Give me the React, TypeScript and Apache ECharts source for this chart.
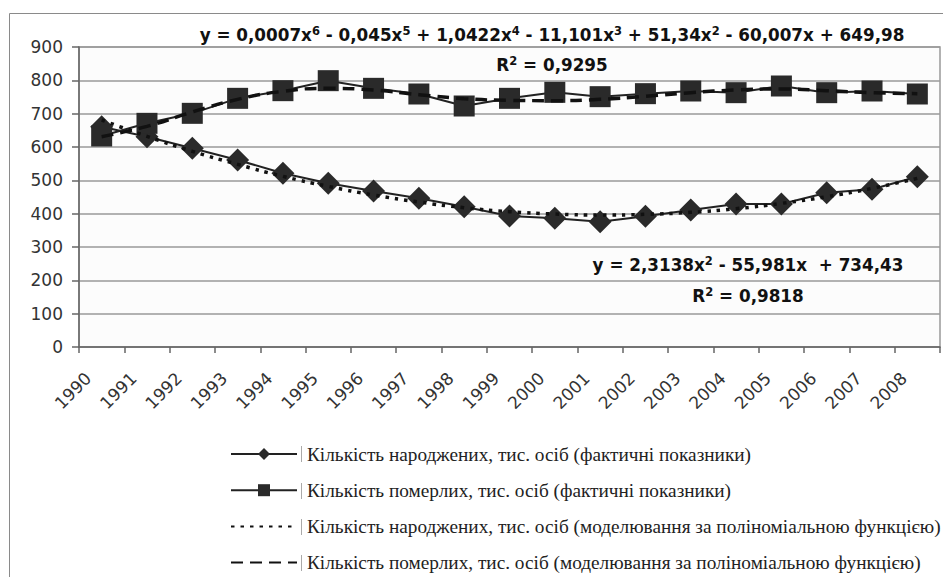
import React, { useEffect, useRef } from "react";
import * as echarts from "echarts";

const years = ["1990", "1991", "1992", "1993", "1994", "1995", "1996", "1997", "1998", "1999", "2000", "2001", "2002", "2003", "2004", "2005", "2006", "2007", "2008"];
const birthsActual = [661, 631, 596, 561, 521, 491, 468, 446, 421, 393, 386, 376, 392, 411, 429, 429, 463, 473, 511];
const deathsActual = [633, 671, 701, 746, 769, 799, 776, 759, 723, 746, 764, 751, 760, 768, 763, 783, 763, 768, 759];
const birthsModel = [681, 632, 587, 548, 512, 482, 456, 435, 418, 406, 399, 396, 398, 404, 415, 431, 451, 476, 506];
const deathsModel = [631, 662, 705, 743, 767, 776, 771, 757, 745, 740, 739, 743, 752, 763, 771, 774, 769, 763, 760];
const yMin = 0;
const yMax = 900;
const yStep = 100;

const seriesNames = [
  "Кількість народжених, тис. осіб (фактичні показники)",
  "Кількість померлих, тис. осіб (фактичні показники)",
  "Кількість народжених, тис. осіб (моделювання за поліноміальною функцією)",
  "Кількість померлих, тис. осіб (моделювання за поліноміальною функцією)",
];

const deathsEquation = "{b|y = 0,0007x}{s|6}{b| - 0,045x}{s|5}{b| + 1,0422x}{s|4}{b| - 11,101x}{s|3}{b| + 51,34x}{s|2}{b| - 60,007x + 649,98}";
const deathsR2 = "{b|R}{s|2}{b| = 0,9295}";
const birthsEquation = "{b|y = 2,3138x}{s|2}{b| - 55,981x  + 734,43}";
const birthsR2 = "{b|R}{s|2}{b| = 0,9818}";

const richStyles = {
  b: { fontFamily: "DejaVu Sans", fontWeight: "bold", fontSize: 16.8, fill: "#111", lineHeight: 20 },
  s: { fontFamily: "DejaVu Sans", fontWeight: "bold", fontSize: 11.5, fill: "#111", lineHeight: 12, verticalAlign: "top" },
};

function eqText(text: string, x: number, y: number) {
  return {
    type: "text",
    x,
    y,
    silent: true,
    z: 100,
    style: {
      text,
      rich: richStyles,
      align: "center",
      verticalAlign: "middle",
      textAlign: "center",
      textVerticalAlign: "middle",
      fill: "#111",
    },
  };
}

const legendRows = [454, 491, 527, 563];

export default function App() {
  const ref = useRef<HTMLDivElement>(null);
  useEffect(() => {
    if (!ref.current) return;
    const chart = echarts.init(ref.current, undefined, { renderer: "svg" });
    const darkLine = "#222";
    const hiddenSymbol = { opacity: 0, color: "rgba(0,0,0,0)", borderWidth: 0 };
    chart.setOption({
      animation: false,
      backgroundColor: "#ffffff",
      grid: {
        left: 79,
        right: 3,
        top: 47,
        bottom: 230,
        show: true,
        backgroundColor: "#fcfcfc",
        borderColor: "#999",
        borderWidth: 1.5,
      },
      xAxis: {
        type: "category",
        data: years,
        boundaryGap: true,
        axisLine: { lineStyle: { color: "#666", width: 1.5 } },
        axisTick: { show: true, length: 6, lineStyle: { color: "#666", width: 1.5 } },
        axisLabel: {
          interval: 0,
          rotate: 45,
          fontFamily: "DejaVu Sans",
          fontSize: 17,
          color: "#333",
          margin: 15,
          padding: [0, 19, 0, 0],
        },
        splitLine: { show: false },
      },
      yAxis: {
        type: "value",
        min: yMin,
        max: yMax,
        interval: yStep,
        axisLine: { show: true, lineStyle: { color: "#666", width: 1.5 } },
        axisTick: { show: true, length: 7, lineStyle: { color: "#666", width: 1.5 } },
        axisLabel: { fontFamily: "DejaVu Sans", fontSize: 17, color: "#333", margin: 16 },
        splitLine: { show: true, lineStyle: { color: "#9a9a9a", width: 1.5 } },
      },
      legend: {
        orient: "vertical",
        left: 230,
        top: 443,
        padding: 0,
        itemWidth: 66,
        itemHeight: 15,
        itemGap: 14.2,
        selectedMode: false,
        data: [
          { name: seriesNames[0] },
          { name: seriesNames[1], itemStyle: { borderWidth: 0 } },
          { name: seriesNames[2], itemStyle: hiddenSymbol },
          { name: seriesNames[3], itemStyle: hiddenSymbol },
        ],
        textStyle: {
          fontFamily: "Liberation Serif",
          fontSize: 19.3,
          color: "#222",
          lineHeight: 22,
          padding: [0, 0, 0, 5],
        },
      },
      graphic: [
        {
          type: "rect",
          silent: true,
          z: -10,
          shape: { x: 9.5, y: 13.5, width: 940, height: 600 },
          style: { fill: "none", stroke: "#8a8a8a", lineWidth: 1 },
        },
        eqText(deathsEquation, 552, 35),
        eqText(deathsR2, 552, 65),
        eqText(birthsEquation, 748, 265),
        eqText(birthsR2, 748, 296),
        ...legendRows.map((cy) => ({
          type: "line",
          silent: true,
          shape: { x1: 301.5, y1: cy - 8, x2: 301.5, y2: cy + 8 },
          style: { stroke: "#aaa", lineWidth: 1 },
        })),
      ],
      series: [
        {
          name: seriesNames[0],
          type: "line",
          data: birthsActual,
          symbol: "diamond",
          symbolSize: 23,
          lineStyle: { color: darkLine, width: 2 },
          itemStyle: { color: "#2a2a2a" },
          z: 3,
        },
        {
          name: seriesNames[1],
          type: "line",
          data: deathsActual,
          symbol: "rect",
          symbolSize: 21,
          lineStyle: { color: darkLine, width: 2 },
          itemStyle: { color: "#2a2a2a" },
          z: 3,
        },
        {
          name: seriesNames[2],
          type: "line",
          data: birthsModel,
          symbol: "none",
          smooth: true,
          lineStyle: { color: "#111", width: 3.5, type: [3.5, 6] },
          itemStyle: { color: "#111" },
          z: 5,
        },
        {
          name: seriesNames[3],
          type: "line",
          data: deathsModel,
          symbol: "none",
          smooth: true,
          lineStyle: { color: "#111", width: 3.5, type: [12, 7] },
          itemStyle: { color: "#111" },
          z: 5,
        },
      ],
    });
    return () => chart.dispose();
  }, []);
  return <div ref={ref} style={{ position: "fixed", left: 0, top: 0, width: 943, height: 577 }} />;
}
